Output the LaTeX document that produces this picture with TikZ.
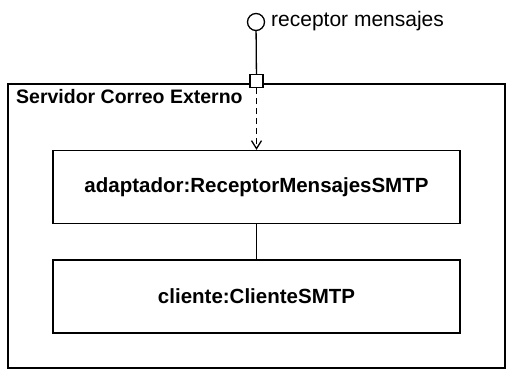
\documentclass[tikz,border=0pt]{standalone}
\usepackage{fontspec}
\setmainfont{Liberation Sans}
\usepackage{tikz}
\usetikzlibrary{arrows.meta}

\tikzset{
	part/.style = {draw, line width = 1.3pt, minimum width = 407pt, minimum height = 73pt, font = \fontsize{20.5}{24}\selectfont\bfseries},
	portbox/.style = {draw, line width = 1.3pt, fill = white, minimum size = 13pt, inner sep = 0pt},
	lolli/.style = {draw, circle, line width = 1.3pt, minimum size = 17pt, inner sep = 0pt}
}

\begin{document}
\begin{tikzpicture}[x = 1pt, y = -1pt]
					\useasboundingbox (0, 0) rectangle (506, 370);
					\draw[line width = 1.3pt] (8, 84) rectangle (505, 368);
					\node[anchor = west, inner sep = 0pt, font = \fontsize{19.5}{23}\selectfont\bfseries] (servidor) at (16, 97) {Servidor Correo Externo};

					\node[part] (adaptador) at (256.5, 187) {adaptador:ReceptorMensajesSMTP};
					\node[part] (cliente) at (256.5, 296.5) {cliente:ClienteSMTP};
					\node[portbox] (puerto) at (256.5, 81) {};
					\node[lolli] (interfaz) at (256, 22) {};
					\node[anchor = west, inner sep = 0pt, font = \fontsize{21}{25}\selectfont] (receptor) at (271, 21) {receptor mensajes};

					\draw[line width = 1.3pt] (puerto) -- (interfaz);
					\draw[line width = 1.3pt, dash pattern = on 6pt off 4pt, -{Straight Barb[length = 8pt, width = 10pt]}] (puerto) -- (adaptador);
					\draw[line width = 1.3pt] (adaptador) -- (cliente);
				\end{tikzpicture}
\end{document}
